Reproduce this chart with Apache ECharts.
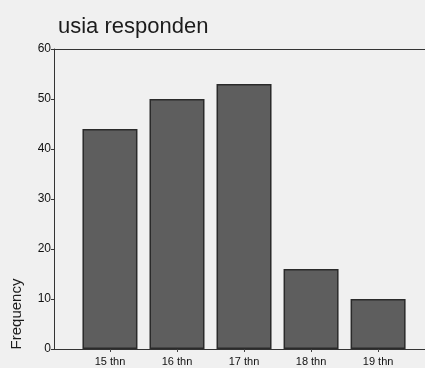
<!DOCTYPE html>
<html>
<head>
<meta charset="utf-8">
<script src="https://cdn.jsdelivr.net/npm/echarts@6/dist/echarts.min.js"></script>
<style>html,body{margin:0;padding:0;background:#f0f0f0;}#c{width:425px;height:368px;}</style>
</head>
<body>
<div id="c"></div>
<script>
var categories = ['15 thn', '16 thn', '17 thn', '18 thn', '19 thn'];
var frequency = [44, 50, 53, 16, 10];
var yTicks = [0, 10, 20, 30, 40, 50, 60];

var chart = echarts.init(document.getElementById('c'), null, {renderer: 'canvas'});
var font = 'Liberation Sans, Arial, sans-serif';
chart.setOption({
  backgroundColor: '#f0f0f0',
  animation: false,
  title: {
    text: 'usia responden',
    left: 53, top: 11,
    textStyle: {fontFamily: font, fontSize: 22, fontWeight: 'normal', color: '#1c1c1c'}
  },
  grid: {left: 54, right: 0, top: 49, bottom: 19},
  xAxis: [{
    type: 'value',
    min: -0.835, max: 4.70,
    axisLine: {show: true, onZero: false, lineStyle: {color: '#333', width: 1}},
    axisTick: {show: true, customValues: [0, 1, 2, 3, 4], length: 3, lineStyle: {color: '#444'}},
    axisLabel: {
      customValues: [0, 1, 2, 3, 4],
      formatter: function (v) { return categories[Math.round(v)]; },
      fontFamily: font, fontSize: 11, color: '#111', margin: 7
    },
    splitLine: {show: false}
  }, {
    type: 'value', position: 'top',
    min: -0.835, max: 4.70,
    axisLine: {show: true, onZero: false, lineStyle: {color: '#333', width: 1}},
    axisTick: {show: false}, axisLabel: {show: false}, splitLine: {show: false}
  }],
  yAxis: {
    type: 'value', min: 0, max: 60, interval: 10,
    axisLine: {show: true, onZero: false, lineStyle: {color: '#333', width: 1}},
    axisTick: {show: true, length: 3, inside: false, lineStyle: {color: '#333'}},
    axisLabel: {
      formatter: function (v) { return yTicks.indexOf(v) >= 0 ? String(v) : ''; },
      fontFamily: font, fontSize: 12, color: '#111', margin: 3
    },
    splitLine: {show: false}
  },
  graphic: [{
    type: 'text', x: 17, y: 314, rotation: Math.PI / 2,
    style: {text: 'Frequency', fontFamily: font, fontSize: 15, fill: '#1c1c1c', align: 'center', verticalAlign: 'middle'}
  }],
  series: [{
    type: 'bar',
    xAxisIndex: 0,
    barWidth: 55,
    data: frequency.map(function (v, i) { return [i, v]; }),
    itemStyle: {color: '#5e5e5e', borderColor: '#2a2a2a', borderWidth: 1.5}
  }]
});
</script>
</body>
</html>
